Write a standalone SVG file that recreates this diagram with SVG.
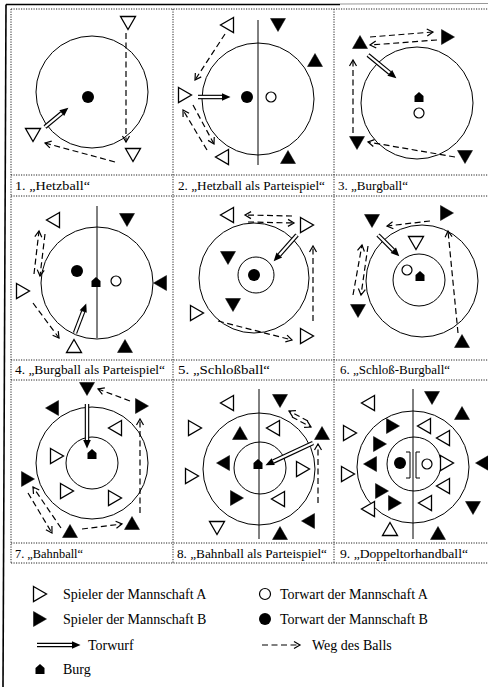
<svg xmlns="http://www.w3.org/2000/svg" width="488" height="687" viewBox="0 0 488 687">
<style>
.bg{fill:#fff}
.grid{stroke:#222;stroke-width:1;stroke-dasharray:1.2,1.3;fill:none}
.c{fill:none;stroke:#000;stroke-width:1}
.ln{stroke:#000;stroke-width:1;fill:none}
.w{fill:#fff;stroke:#000;stroke-width:1.3}
.k{fill:#000;stroke:#000;stroke-width:0.5}
.gw{fill:#fff;stroke:#000;stroke-width:1.2}
.gb{fill:#000}
.d{fill:none;stroke:#000;stroke-width:1.2;stroke-dasharray:6,3.5;marker-end:url(#ah)}
.tw .o{fill:none;stroke:#000;stroke-width:4.5}
.tw .i{fill:none;stroke:#fff;stroke-width:2.2;marker-end:url(#tm)}
.lab{font-family:"Liberation Serif","Times New Roman",serif;font-size:13.5px;fill:#000}
.leg{font-family:"Liberation Serif","Times New Roman",serif;font-size:14px;fill:#000}
.br{fill:none;stroke:#000;stroke-width:1}
</style>
<defs>
<path id="tu" d="M0,-6.5 L7.5,6.5 L-7.5,6.5 Z"/>
<path id="td" d="M-7.5,-6.5 L7.5,-6.5 L0,6.5 Z"/>
<path id="tr" d="M-6.5,-7.5 L6.5,0 L-6.5,7.5 Z"/>
<path id="tl" d="M6.5,-7.5 L-6.5,0 L6.5,7.5 Z"/>
<path id="burg" d="M-4.5,5 L-4.5,-1 L0,-5 L4.5,-1 L4.5,5 Z" fill="#000"/>
<marker id="ah" markerUnits="userSpaceOnUse" markerWidth="10" markerHeight="10" viewBox="-8 -5 10 10" refX="0" refY="0" orient="auto" overflow="visible">
<path d="M-6,-3.5 L0,0 L-6,3.5" fill="none" stroke="#000" stroke-width="1.2"/>
</marker>
<marker id="tm" markerUnits="userSpaceOnUse" markerWidth="10" markerHeight="10" viewBox="0 -5 10 10" refX="0" refY="0" orient="auto" overflow="visible">
<path d="M0,-3.8 L8.5,0 L0,3.8 Z" fill="#000"/>
</marker>
</defs>
<rect class="bg" x="0" y="0" width="488" height="687"/>

<g id="frame">
<line x1="6" y1="4.5" x2="3" y2="687" stroke="#000" stroke-width="1.6"/>
<line x1="6" y1="4.5" x2="340" y2="4.5" stroke="#000" stroke-width="1.4"/>
<line x1="340" y1="4" x2="488" y2="3.5" stroke="#999" stroke-width="1.2"/>
<path class="grid" d="M11,9 H488 M11,175 H488 M11,196 H488 M11,360 H488 M11,380 H488 M11,543 H488 M11,563 H488 M11,9 V563 M173,9 V563 M334,9 V563"/>
</g>

<!-- Panel 1 -->
<g id="p1">
<circle class="c" cx="92" cy="92" r="56"/>
<circle class="gb" cx="88" cy="97" r="6"/>
<use href="#td" x="128" y="23" class="w"/>
<use href="#td" x="133" y="155" class="w"/>
<use href="#td" x="33" y="135" class="w"/>
<g id="p1-conn">
<g class="tw"><path class="o" d="M45,127 L61.8,113.1"/><path class="i" d="M45,127 L61.8,113.1"/></g>
<path class="d" d="M126,33 L126,142"/>
<path class="d" d="M115,162 L45,143"/>
</g>
<text class="lab" x="15" y="190" textLength="75" lengthAdjust="spacingAndGlyphs">1. „Hetzball“</text>
</g>

<!-- Panel 2 -->
<g id="p2">
<line class="ln" x1="258" y1="20" x2="258" y2="165"/>
<circle class="c" cx="258" cy="99" r="56"/>
<circle class="gb" cx="247" cy="97" r="6"/>
<circle class="gw" cx="271" cy="97" r="5"/>
<use href="#tl" x="227" y="25" class="w"/>
<use href="#td" x="278" y="25" class="k"/>
<use href="#tu" x="315" y="60" class="k"/>
<use href="#tr" x="185" y="95" class="w"/>
<use href="#tl" x="222" y="157" class="w"/>
<use href="#tu" x="288" y="157" class="k"/>
<g id="p2-conn">
<g class="tw"><path class="o" d="M198,97 L222,97"/><path class="i" d="M198,97 L222,97"/></g>
<path class="d" d="M225,34 L195,80"/>
<path class="d" d="M207,150 L183,110"/>
<path class="d" d="M193,105 L214,144"/>
</g>
<text class="lab" x="178" y="190" textLength="147" lengthAdjust="spacingAndGlyphs">2. „Hetzball als Parteispiel“</text>
</g>

<!-- Panel 3 -->
<g id="p3">
<circle class="c" cx="417" cy="103" r="56"/>
<use href="#burg" x="419" y="97"/>
<circle class="gw" cx="419" cy="113" r="5"/>
<use href="#tu" x="360" y="42" class="k"/>
<use href="#tr" x="448" y="37" class="k"/>
<use href="#td" x="357" y="143" class="k"/>
<use href="#td" x="465" y="157" class="k"/>
<g id="p3-conn">
<g class="tw"><path class="o" d="M368,55 L389.8,72.9"/><path class="i" d="M368,55 L389.8,72.9"/></g>
<path class="d" d="M370,37 L433,32"/>
<path class="d" d="M437,40 L370,45"/>
<path class="d" d="M353,133 L353,60"/>
<path class="d" d="M455,157 L368,142"/>
</g>
<text class="lab" x="338" y="190" textLength="70" lengthAdjust="spacingAndGlyphs">3. „Burgball“</text>
</g>

<g transform="translate(0,-2)">
<!-- Panel 4 -->
<g id="p4">
<line class="ln" x1="97" y1="208" x2="97" y2="340"/>
<circle class="c" cx="97" cy="285" r="56"/>
<circle class="gb" cx="77" cy="273" r="6"/>
<use href="#burg" x="96" y="284"/>
<circle class="gw" cx="116" cy="283" r="5"/>
<use href="#tl" x="53" y="222" class="w"/>
<use href="#td" x="127" y="222" class="k"/>
<use href="#tl" x="160" y="285" class="k"/>
<use href="#tr" x="23" y="293" class="w"/>
<use href="#tu" x="74" y="348" class="w"/>
<use href="#tu" x="125" y="348" class="k"/>
<g id="p4-conn">
<g class="tw"><path class="o" d="M75,335 L83.2,313.5"/><path class="i" d="M75,335 L83.2,313.5"/></g>
<path class="d" d="M34,276 L39,233"/>
<path class="d" d="M45,236 L40,278"/>
<path class="d" d="M33,305 L59,340"/>
</g>
<text class="lab" x="15" y="376" textLength="150" lengthAdjust="spacingAndGlyphs">4. „Burgball als Parteispiel“</text>
</g>

<!-- Panel 5 -->
<g id="p5">
<circle class="c" cx="254" cy="280" r="55"/>
<circle class="c" cx="256" cy="277" r="18"/>
<circle class="gb" cx="254" cy="277" r="6"/>
<use href="#tl" x="227" y="217" class="w"/>
<use href="#tr" x="307" y="227" class="w"/>
<use href="#td" x="228" y="260" class="k"/>
<use href="#td" x="233" y="307" class="k"/>
<use href="#tr" x="197" y="315" class="w"/>
<use href="#tr" x="307" y="338" class="w"/>
<g id="p5-conn">
<g class="tw"><path class="o" d="M297,237 L279.3,257"/><path class="i" d="M297,237 L279.3,257"/></g>
<path class="d" d="M292,218 L245,217"/>
<path class="d" d="M248,224 L294,225"/>
<path class="d" d="M313,323 L313,248"/>
<path class="d" d="M218,323 L292,342"/>
</g>
<text class="lab" x="178" y="376" textLength="92" lengthAdjust="spacingAndGlyphs">5. „Schloßball“</text>
</g>

<!-- Panel 6 -->
<g id="p6">
<circle class="c" cx="422" cy="283" r="56"/>
<circle class="c" cx="419" cy="282" r="26"/>
<circle class="gw" cx="407" cy="272" r="5"/>
<use href="#burg" x="420" y="278"/>
<use href="#td" x="416" y="245" class="w"/>
<use href="#td" x="372" y="223" class="k"/>
<use href="#tr" x="447" y="215" class="k"/>
<use href="#td" x="358" y="313" class="k"/>
<use href="#tu" x="462" y="343" class="k"/>
<g id="p6-conn">
<g class="tw"><path class="o" d="M378,237 L393.3,252.3"/><path class="i" d="M378,237 L393.3,252.3"/></g>
<path class="d" d="M430,223 L387,228"/>
<path class="d" d="M353,297 L362,247"/>
<path class="d" d="M368,248 L361,297"/>
<path class="d" d="M458,335 L448,233"/>
</g>
<text class="lab" x="340" y="376" textLength="110" lengthAdjust="spacingAndGlyphs">6. „Schloß-Burgball“</text>
</g>
</g>

<g transform="translate(0,-4)">
<!-- Panel 7 -->
<g id="p7">
<circle class="c" cx="92" cy="467" r="56"/>
<circle class="c" cx="92" cy="467" r="26"/>
<use href="#burg" x="92" y="458"/>
<use href="#td" x="87" y="393" class="k"/>
<use href="#tl" x="52" y="412" class="k"/>
<use href="#tr" x="142" y="410" class="k"/>
<use href="#tl" x="115" y="432" class="w"/>
<use href="#tr" x="57" y="460" class="w"/>
<use href="#tr" x="67" y="495" class="w"/>
<use href="#tr" x="115" y="502" class="w"/>
<use href="#tr" x="28" y="483" class="k"/>
<use href="#tu" x="70" y="535" class="k"/>
<use href="#tu" x="132" y="527" class="k"/>
<g id="p7-conn">
<g class="tw"><path class="o" d="M87,408 L87,444"/><path class="i" d="M87,408 L87,444"/></g>
<path class="d" d="M130,405 L98,393"/>
<path class="d" d="M140,517 L140,423"/>
<path class="d" d="M82,533 L122,528"/>
<path class="d" d="M28,497 L52,537"/>
<path class="d" d="M61,532 L33,491"/>
</g>
<text class="lab" x="15" y="562" textLength="68" lengthAdjust="spacingAndGlyphs">7. „Bahnball“</text>
</g>

<!-- Panel 8 -->
<g id="p8">
<line class="ln" x1="259" y1="393" x2="259" y2="543"/>
<circle class="c" cx="259" cy="473" r="56"/>
<circle class="c" cx="260" cy="472" r="26"/>
<use href="#burg" x="258" y="468"/>
<use href="#tl" x="227" y="407" class="w"/>
<use href="#td" x="280" y="405" class="k"/>
<use href="#tu" x="322" y="437" class="k"/>
<use href="#tr" x="195" y="432" class="w"/>
<use href="#tu" x="240" y="437" class="k"/>
<use href="#tl" x="273" y="432" class="w"/>
<use href="#tl" x="223" y="467" class="k"/>
<use href="#tr" x="303" y="473" class="w"/>
<use href="#tr" x="192" y="480" class="w"/>
<use href="#tr" x="237" y="502" class="k"/>
<use href="#tl" x="278" y="503" class="w"/>
<use href="#tl" x="308" y="525" class="k"/>
<use href="#td" x="217" y="532" class="w"/>
<use href="#tu" x="280" y="537" class="k"/>
<g id="p8-conn">
<g class="tw"><path class="o" d="M313,447 L273.2,465.6"/><path class="i" d="M313,447 L273.2,465.6"/></g>
<path class="d" d="M308,425 L289,415"/>
<path class="d" d="M292,421 L311,431"/>
<path class="d" d="M318,507 L318,448"/>
</g>
<text class="lab" x="177" y="562" textLength="150" lengthAdjust="spacingAndGlyphs">8. „Bahnball als Parteispiel“</text>
</g>

<!-- Panel 9 -->
<g id="p9">
<line class="ln" x1="413" y1="393" x2="413" y2="543"/>
<circle class="c" cx="413" cy="471" r="56"/>
<circle class="c" cx="414" cy="468" r="27"/>
<circle class="gb" cx="400" cy="467" r="6"/>
<circle class="gw" cx="427" cy="468" r="5"/>
<path class="br" d="M406,456 L410,456 L410,482 L406,482"/>
<path class="br" d="M420,456 L416,456 L416,482 L420,482"/>
<use href="#tl" x="368" y="407" class="w"/>
<use href="#td" x="432" y="402" class="k"/>
<use href="#tu" x="462" y="417" class="k"/>
<use href="#tr" x="350" y="437" class="w"/>
<use href="#tr" x="393" y="430" class="k"/>
<use href="#tl" x="424" y="430" class="w"/>
<use href="#tr" x="380" y="448" class="k"/>
<use href="#tl" x="443" y="442" class="w"/>
<use href="#tl" x="370" y="468" class="k"/>
<use href="#tr" x="447" y="467" class="w"/>
<use href="#tl" x="482" y="467" class="k"/>
<use href="#tr" x="348" y="478" class="w"/>
<use href="#tr" x="382" y="495" class="k"/>
<use href="#tl" x="443" y="490" class="w"/>
<use href="#tr" x="395" y="507" class="k"/>
<use href="#tl" x="425" y="507" class="w"/>
<use href="#tl" x="368" y="513" class="w"/>
<use href="#td" x="473" y="512" class="k"/>
<use href="#tu" x="390" y="533" class="w"/>
<use href="#tu" x="438" y="537" class="k"/>
<text class="lab" x="340" y="562" textLength="128" lengthAdjust="spacingAndGlyphs">9. „Doppeltorhandball“</text>
</g>
</g>

<!-- Legend -->
<g id="legend">
<g id="lg-a"><use href="#tr" x="40" y="594" class="w"/><text class="leg" x="63" y="599">Spieler der Mannschaft A</text></g>
<g id="lg-b"><use href="#tr" x="40" y="619" class="k"/><text class="leg" x="63" y="624">Spieler der Mannschaft B</text></g>
<g id="lg-tw"><g class="tw"><path class="o" d="M37,645 L72,645"/><path class="i" d="M37,645 L72,645"/></g><text class="leg" x="88" y="650">Torwurf</text></g>
<g id="lg-burg"><use href="#burg" x="40" y="669"/><text class="leg" x="63" y="674">Burg</text></g>
<g id="lg-ta"><circle class="gw" cx="265" cy="594" r="5.5"/><text class="leg" x="280" y="599">Torwart der Mannschaft A</text></g>
<g id="lg-tb"><circle class="gb" cx="265" cy="619" r="6"/><text class="leg" x="280" y="624">Torwart der Mannschaft B</text></g>
<g id="lg-weg"><path class="d" d="M262,645 L300,645"/><text class="leg" x="312" y="650">Weg des Balls</text></g>
</g>
</svg>
